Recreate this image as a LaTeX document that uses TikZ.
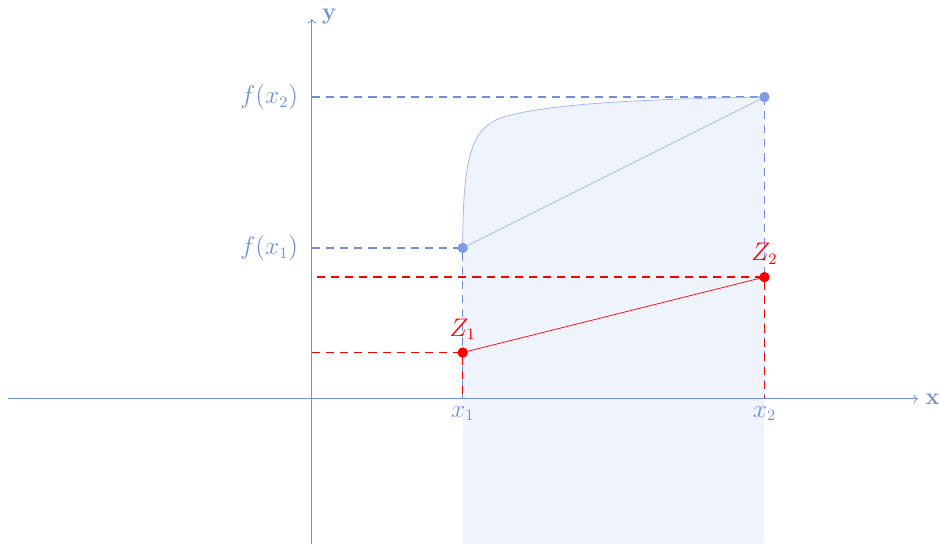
\documentclass[tikz,border=0pt]{standalone}
\usepackage{xcolor}
\usepackage{tikz}
\usetikzlibrary{arrows.meta,positioning,calc}
\definecolor{grAxis}{HTML}{6F8FDD}
\definecolor{grCurve}{HTML}{9DB3EC}
\definecolor{grFill}{HTML}{EFF3FC}
\definecolor{grDot}{HTML}{7E9CE4}
\definecolor{grText}{HTML}{7090DA}
\definecolor{grRed}{HTML}{FF0000}
\tikzset{
  axisline/.style={->,color=grAxis},
  guide/.style={color=grAxis,line width=0.75pt,dash pattern=on 4.6pt off 3.4pt},
  zguide/.style={color=grRed,line width=0.75pt,dash pattern=on 4.6pt off 3.4pt},
  bdot/.style={circle,fill=grDot,inner sep=0pt,minimum size=0.2cm},
  rdot/.style={circle,fill=grRed,inner sep=0pt,minimum size=0.2cm},
  lbl/.style={font=\fontsize{13.3}{16}\selectfont,text=grText},
  zlbl/.style={font=\fontsize{13.3}{16}\selectfont,text=grRed},
  axlbl/.style={font=\fontsize{13.3}{16}\selectfont\bfseries,text=grText},
}
\begin{document}
\begin{tikzpicture}
  \useasboundingbox (-6.2,-2.88) rectangle (12.47,7.93);

  % area under the curve
  \fill[grFill] (3,-2.88) -- (3,3)
    .. controls (3,4.9) and (3.2,5.4) .. (3.8,5.6)
    .. controls (4.6,5.83) and (6,5.95) .. (9,6)
    -- (9,-2.88) -- cycle;

  \coordinate (o) at (0,0);
  \coordinate (xl) at (-6.05,0);
  \coordinate (xr) at (12.05,0);
  \coordinate (yb) at (0,-2.88);
  \coordinate (yt) at (0,7.55);
  \coordinate (x1) at (3,0);
  \coordinate (x2) at (9,0);
  \coordinate (fy1) at (0,3);
  \coordinate (fy2) at (0,6);
  \coordinate (zy1) at (0,0.92);
  \coordinate (zy2) at (0.1,2.42);

  \node[bdot] (p1) at (3,3) {};
  \node[bdot] (p2) at (9,6) {};
  \node[rdot] (z1) at (3,0.92) {};
  \node[rdot] (z2) at (9,2.42) {};

  % guide lines
  \draw[guide] (fy2) -- (p2.center) -- (x2);
  \draw[guide] (fy1) -- (p1.center) -- (x1);
  \draw[zguide] (zy1) -- (z1.center) -- (x1);
  \draw[zguide] (zy2) -- (z2.center) -- (x2);

  % curve and chords
  \draw[grCurve] (p1.center)
    .. controls (3,4.9) and (3.2,5.4) .. (3.8,5.6)
    .. controls (4.6,5.83) and (6,5.95) .. (p2.center);
  \draw[grCurve] (p1.center) -- (p2.center);
  \draw[grRed] (z1.center) -- (z2.center);

  % axes
  \draw[axisline] (xl) -- (xr);
  \draw[axisline] (yb) -- (yt);
  \node[axlbl,anchor=west,xshift=0.03cm] at (xr) {x};
  \node[axlbl,anchor=west,xshift=0.08cm,yshift=0.05cm] at (yt) {y};

  % dots on top
  \node[bdot] at (p1) {};
  \node[bdot] at (p2) {};
  \node[rdot] at (z1) {};
  \node[rdot] at (z2) {};

  % labels
  \node[lbl,left=0.15cm of fy1] {$f(x_1)$};
  \node[lbl,left=0.15cm of fy2] {$f(x_2)$};
  \node[lbl,below=0.02cm of x1] {$x_1$};
  \node[lbl,below=0.02cm of x2] {$x_2$};
  \node[zlbl,above=0.02cm of z1] {$Z_1$};
  \node[zlbl,above=0.02cm of z2] {$Z_2$};
\end{tikzpicture}
\end{document}
